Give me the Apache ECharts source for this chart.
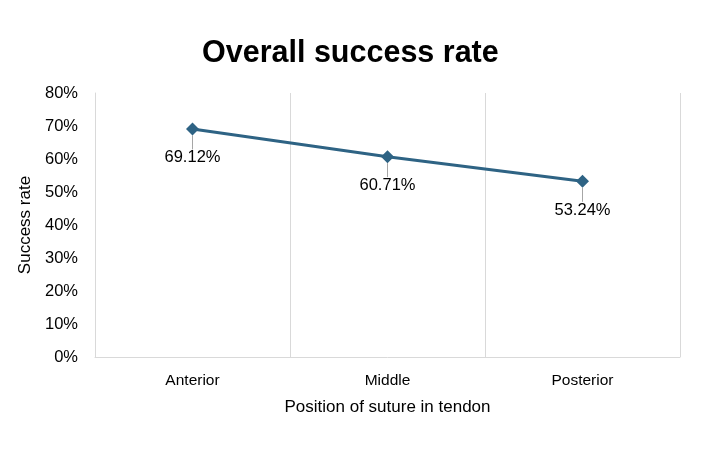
<!DOCTYPE html>
<html><head><meta charset="utf-8">
<script src="https://cdn.jsdelivr.net/npm/echarts@6/dist/echarts.min.js"></script>
<style>html,body{margin:0;padding:0;background:#fff}#c{width:710px;height:474px}</style>
</head><body><div id="c"></div>
<script>
var categories = ['Anterior', 'Middle', 'Posterior'];
var successRate = [69.12, 60.71, 53.24];
var yTicks = [0, 10, 20, 30, 40, 50, 60, 70, 80];

var chart = echarts.init(document.getElementById('c'));
chart.setOption({
  animation: false,
  backgroundColor: '#fff',
  title: {
    text: 'Overall success rate', left: 197, top: 33,
    textStyle: { fontFamily: 'Liberation Sans', fontWeight: 'bold', fontSize: 30.5, color: '#000' }
  },
  grid: { left: 95, right: 30, top: 93, bottom: 117 },
  xAxis: {
    type: 'category', data: categories, boundaryGap: true,
    axisLine: { show: true, lineStyle: { color: '#d9d9d9', width: 1 } },
    axisTick: { show: false },
    splitLine: { show: true, lineStyle: { color: '#d9d9d9', width: 1 } },
    axisLabel: { fontFamily: 'Liberation Sans', fontSize: 15.5, color: '#000', margin: 16 },
    name: 'Position of suture in tendon', nameLocation: 'middle', nameGap: 42,
    nameTextStyle: { fontFamily: 'Liberation Sans', fontSize: 17, color: '#000' }
  },
  yAxis: {
    type: 'value', min: yTicks[0], max: yTicks[yTicks.length - 1], interval: 10,
    axisLine: { show: true, lineStyle: { color: '#d9d9d9', width: 1 } },
    axisTick: { show: false },
    splitLine: { show: false },
    axisLabel: { fontFamily: 'Liberation Sans', fontSize: 16.5, color: '#000', margin: 17,
      formatter: function (v) { return v + '%'; } },
    name: 'Success rate', nameLocation: 'middle', nameGap: 55,
    nameTextStyle: { fontFamily: 'Liberation Sans', fontSize: 17, color: '#000' }
  },
  series: [{
    type: 'line', data: successRate,
    symbol: 'diamond', symbolSize: 13,
    lineStyle: { color: '#2e6384', width: 3 },
    itemStyle: { color: '#2e6384' },
    label: {
      show: true, position: 'bottom', distance: 12,
      fontFamily: 'Liberation Sans', fontSize: 16.5, color: '#000',
      formatter: function (p) { return p.value.toFixed(2) + '%'; }
    },
    labelLine: { show: true, lineStyle: { color: '#a6a6a6', width: 1 } },
    labelLayout: { dy: 2 }
  }]
});
</script></body></html>
